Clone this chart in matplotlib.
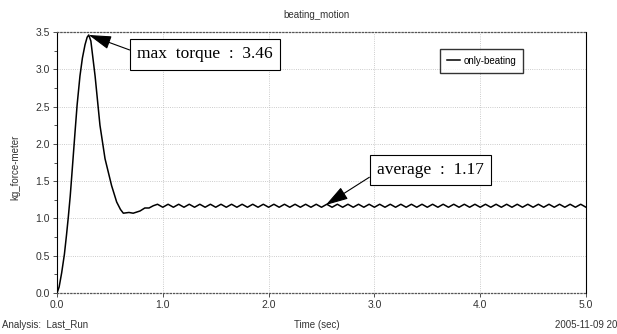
import numpy as np
import matplotlib
matplotlib.use("Agg")
import matplotlib.pyplot as plt
from matplotlib.ticker import MultipleLocator

# -- data ------------------------------------------------------------
# transient part: spin-up, peak and settling
t_start = [0.00, 0.02, 0.044, 0.07, 0.09, 0.107, 0.125, 0.14, 0.17, 0.19,
           0.217, 0.24, 0.265, 0.285, 0.30, 0.32, 0.36, 0.406, 0.454, 0.516,
           0.564, 0.60, 0.627, 0.68, 0.72, 0.785, 0.83, 0.87, 0.91]
v_start = [0.00, 0.08, 0.27, 0.52, 0.78, 1.02, 1.30, 1.58, 2.15, 2.52,
           2.91, 3.15, 3.33, 3.43, 3.46, 3.38, 2.91, 2.25, 1.80, 1.44,
           1.22, 1.12, 1.07, 1.08, 1.07, 1.10, 1.14, 1.14, 1.17]

# steady beating: crests and troughs
t_beat = [0.95, 1.00, 1.05, 1.10, 1.15, 1.20, 1.25, 1.30, 1.35, 1.40,
          1.45, 1.50, 1.55, 1.60, 1.65, 1.70, 1.75, 1.80, 1.85, 1.90,
          1.95, 2.00, 2.05, 2.10, 2.15, 2.20, 2.25, 2.30, 2.35, 2.40,
          2.45, 2.50, 2.55, 2.60, 2.65, 2.70, 2.75, 2.80, 2.85, 2.90,
          2.95, 3.00, 3.05, 3.10, 3.15, 3.20, 3.25, 3.30, 3.35, 3.40,
          3.45, 3.50, 3.55, 3.60, 3.65, 3.70, 3.75, 3.80, 3.85, 3.90,
          3.95, 4.00, 4.05, 4.10, 4.15, 4.20, 4.25, 4.30, 4.35, 4.40,
          4.45, 4.50, 4.55, 4.60, 4.65, 4.70, 4.75, 4.80, 4.85, 4.90,
          4.95, 5.00]
v_beat = [1.19, 1.15, 1.19, 1.15, 1.19, 1.15, 1.19, 1.15, 1.19, 1.15,
          1.19, 1.15, 1.19, 1.15, 1.19, 1.15, 1.19, 1.15, 1.19, 1.15,
          1.19, 1.15, 1.19, 1.15, 1.19, 1.15, 1.19, 1.15, 1.19, 1.15,
          1.19, 1.15, 1.19, 1.15, 1.19, 1.15, 1.19, 1.15, 1.19, 1.15,
          1.19, 1.15, 1.19, 1.15, 1.19, 1.15, 1.19, 1.15, 1.19, 1.15,
          1.19, 1.15, 1.19, 1.15, 1.19, 1.15, 1.19, 1.15, 1.19, 1.15,
          1.19, 1.15, 1.19, 1.15, 1.19, 1.15, 1.19, 1.15, 1.19, 1.15,
          1.19, 1.15, 1.19, 1.15, 1.19, 1.15, 1.19, 1.15, 1.19, 1.15,
          1.19, 1.15]

x_ticks = [0.0, 1.0, 2.0, 3.0, 4.0, 5.0]
y_ticks = [0.0, 0.5, 1.0, 1.5, 2.0, 2.5, 3.0, 3.5]

max_t, max_v = 0.30, 3.46
avg_t, avg_v = 2.54, 1.18

t = np.array(t_start + t_beat)
v = np.array(v_start + v_beat)

# -- figure ------------------------------------------------------------
plt.rcParams["font.family"] = ["Liberation Sans Narrow", "Liberation Sans", "DejaVu Sans"]

fig = plt.figure(figsize=(6.17, 3.34), dpi=100)
ax = fig.add_axes([57 / 617, 1 - 293 / 334, 529 / 617, 261 / 334])

ax.plot(t, v, color="black", lw=1.1, label="only-beating")

ax.set_xlim(0, 5.0)
ax.set_ylim(0, 3.5)
ax.set_xticks(x_ticks)
ax.set_yticks(y_ticks)
ax.yaxis.set_minor_locator(MultipleLocator(0.25))
ax.set_xticklabels([f"{x:.1f}" for x in x_ticks], fontsize=7.5, color="#333333")
ax.set_yticklabels([f"{y:.1f}" for y in y_ticks], fontsize=7.5, color="#333333")
ax.tick_params(direction="out", length=3, width=0.6, pad=2, colors="#333333")
ax.tick_params(which="minor", direction="out", length=2, width=0.6, colors="#333333")

ax.grid(True, ls=":", lw=0.6, color="#bbbbbb")

for side in ("top", "bottom"):
    ax.spines[side].set_linestyle(":")
    ax.spines[side].set_color("#555555")
    ax.spines[side].set_linewidth(0.9)
for side in ("left", "right"):
    ax.spines[side].set_color("black")
    ax.spines[side].set_linewidth(0.8)

ax.legend(loc="upper left", bbox_to_anchor=(0.724, 0.935), fontsize=7,
          frameon=True, fancybox=False, edgecolor="black", handlelength=1.4,
          borderpad=0.7, handletextpad=0.3, borderaxespad=0)

box = dict(boxstyle="square,pad=0.42", fc="white", ec="black", lw=0.8)
ax.annotate("max  torque  :  3.46", xy=(max_t, max_v), xytext=(1.40, 3.20),
            ha="center", va="center", fontsize=12.5, family="Liberation Serif",
            bbox=box,
            arrowprops=dict(arrowstyle="-|>,head_length=1.0,head_width=0.3",
                            color="black", lw=0.8, relpos=(0, 0.6),
                            shrinkA=0, shrinkB=0, mutation_scale=14))
ax.annotate("average  :  1.17", xy=(avg_t, avg_v), xytext=(3.53, 1.65),
            ha="center", va="center", fontsize=12.5, family="Liberation Serif",
            bbox=box,
            arrowprops=dict(arrowstyle="-|>,head_length=1.0,head_width=0.3",
                            color="black", lw=0.8, relpos=(0, 0.35),
                            shrinkA=0, shrinkB=0, mutation_scale=14))

fig.text(317 / 617, 1 - 15 / 334, "beating_motion", ha="center", va="center",
         fontsize=7, color="#333333")
fig.text(15 / 617, 0.5, "kg_force-meter", rotation=90, ha="center",
         va="center", fontsize=7, color="#333333")
fig.text(317 / 617, 1 - 325 / 334, "Time (sec)", ha="center", va="center",
         fontsize=7, color="#333333")
fig.text(2 / 617, 1 - 325 / 334, "Analysis:  Last_Run", ha="left",
         va="center", fontsize=7, color="#333333")
fig.text(1.0, 1 - 325 / 334, "2005-11-09 20", ha="right", va="center",
         fontsize=7, color="#333333")

fig.savefig("out.png", dpi=100)
